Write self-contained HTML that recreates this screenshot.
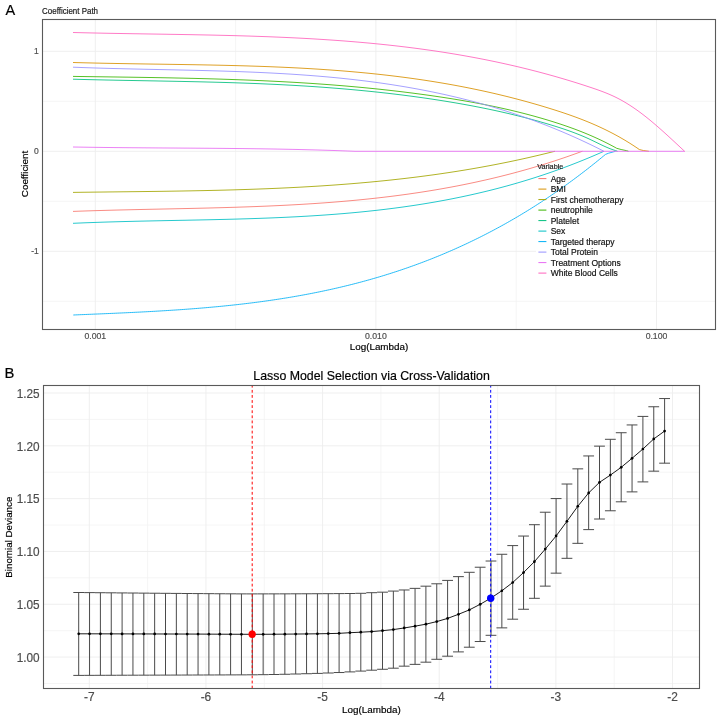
<!DOCTYPE html>
<html><head><meta charset="utf-8"><title>Lasso</title>
<style>
html,body{margin:0;padding:0;background:#fff;}
body{width:720px;height:718px;overflow:hidden;font-family:"Liberation Sans", sans-serif;}
svg{display:block;will-change:transform;}
svg text{font-family:"Liberation Sans", sans-serif;}
</style></head>
<body>
<svg width="720" height="718" viewBox="0 0 720 718">
<rect width="720" height="718" fill="#fff"/>
<text x="5.5" y="15" font-size="14.5" fill="#000" stroke="#000" stroke-width="0.18">A</text>
<text transform="translate(42.1,13.6) scale(1,1.08)" font-size="7.95" fill="#1a1a1a" stroke="#1a1a1a" stroke-width="0.18">Coefficient Path</text>
<line x1="43" x2="715" y1="101.3" y2="101.3" stroke="#F3F3F3" stroke-width="0.8"/>
<line x1="43" x2="715" y1="201.3" y2="201.3" stroke="#F3F3F3" stroke-width="0.8"/>
<line x1="43" x2="715" y1="301.3" y2="301.3" stroke="#F3F3F3" stroke-width="0.8"/>
<line x1="235.6" x2="235.6" y1="20" y2="329" stroke="#F3F3F3" stroke-width="0.8"/>
<line x1="516.2" x2="516.2" y1="20" y2="329" stroke="#F3F3F3" stroke-width="0.8"/>
<line x1="43" x2="715" y1="51.3" y2="51.3" stroke="#EDEDED" stroke-width="0.9"/>
<line x1="43" x2="715" y1="151.3" y2="151.3" stroke="#EDEDED" stroke-width="0.9"/>
<line x1="43" x2="715" y1="251.3" y2="251.3" stroke="#EDEDED" stroke-width="0.9"/>
<line x1="95.3" x2="95.3" y1="20" y2="329" stroke="#EDEDED" stroke-width="0.9"/>
<line x1="375.9" x2="375.9" y1="20" y2="329" stroke="#EDEDED" stroke-width="0.9"/>
<line x1="656.5" x2="656.5" y1="20" y2="329" stroke="#EDEDED" stroke-width="0.9"/>
<rect x="536" y="160.5" width="28.5" height="10" fill="#fff"/>
<rect x="536" y="173.35" width="31.3" height="10.5" fill="#fff"/>
<rect x="536" y="183.85" width="31.3" height="10.5" fill="#fff"/>
<rect x="536" y="194.35" width="88.9" height="10.5" fill="#fff"/>
<rect x="536" y="204.85" width="58.2" height="10.5" fill="#fff"/>
<rect x="536" y="215.35" width="44.5" height="10.5" fill="#fff"/>
<rect x="536" y="225.85" width="30.8" height="10.5" fill="#fff"/>
<rect x="536" y="236.35" width="80.9" height="10.5" fill="#fff"/>
<rect x="536" y="246.85" width="64.4" height="10.5" fill="#fff"/>
<rect x="536" y="257.35" width="86.6" height="10.5" fill="#fff"/>
<rect x="536" y="267.85" width="83.3" height="10.5" fill="#fff"/>
<path d="M73.00,211.40 L75.00,211.33 L77.00,211.26 L79.00,211.18 L81.00,211.12 L83.00,211.05 L85.00,210.98 L87.00,210.92 L89.00,210.85 L91.00,210.79 L93.00,210.73 L95.00,210.66 L97.00,210.60 L99.00,210.55 L101.00,210.49 L103.00,210.43 L105.00,210.38 L107.00,210.32 L109.00,210.27 L111.00,210.21 L113.00,210.16 L115.00,210.11 L117.00,210.06 L119.00,210.01 L121.00,209.96 L123.00,209.91 L125.00,209.86 L127.00,209.82 L129.00,209.77 L131.00,209.72 L133.00,209.68 L135.00,209.63 L137.00,209.59 L139.00,209.54 L141.00,209.50 L143.00,209.45 L145.00,209.41 L147.00,209.37 L149.00,209.32 L151.00,209.28 L153.00,209.24 L155.00,209.20 L157.00,209.16 L159.00,209.11 L161.00,209.07 L163.00,209.03 L165.00,208.99 L167.00,208.95 L169.00,208.90 L171.00,208.86 L173.00,208.82 L175.00,208.78 L177.00,208.73 L179.00,208.69 L181.00,208.65 L183.00,208.60 L185.00,208.56 L187.00,208.52 L189.00,208.47 L191.00,208.43 L193.00,208.38 L195.00,208.34 L197.00,208.29 L199.00,208.24 L201.00,208.19 L203.00,208.15 L205.00,208.10 L207.00,208.05 L209.00,208.00 L211.00,207.95 L213.00,207.90 L215.00,207.84 L217.00,207.79 L219.00,207.74 L221.00,207.68 L223.00,207.63 L225.00,207.57 L227.00,207.51 L229.00,207.45 L231.00,207.39 L233.00,207.33 L235.00,207.27 L237.00,207.21 L239.00,207.14 L241.00,207.07 L243.00,207.01 L245.00,206.94 L247.00,206.87 L249.00,206.80 L251.00,206.73 L253.00,206.65 L255.00,206.58 L257.00,206.50 L259.00,206.42 L261.00,206.34 L263.00,206.26 L265.00,206.18 L267.00,206.10 L269.00,206.01 L271.00,205.92 L273.00,205.83 L275.00,205.74 L277.00,205.65 L279.00,205.55 L281.00,205.46 L283.00,205.36 L285.00,205.26 L287.00,205.16 L289.00,205.05 L291.00,204.95 L293.00,204.84 L295.00,204.73 L297.00,204.61 L299.00,204.50 L301.00,204.38 L303.00,204.26 L305.00,204.14 L307.00,204.02 L309.00,203.89 L311.00,203.76 L313.00,203.63 L315.00,203.50 L317.00,203.37 L319.00,203.23 L321.00,203.09 L323.00,202.94 L325.00,202.80 L327.00,202.65 L329.00,202.50 L331.00,202.35 L333.00,202.19 L335.00,202.03 L337.00,201.87 L339.00,201.71 L341.00,201.54 L343.00,201.37 L345.00,201.20 L347.00,201.02 L349.00,200.84 L351.00,200.66 L353.00,200.48 L355.00,200.29 L357.00,200.10 L359.00,199.91 L361.00,199.71 L363.00,199.51 L365.00,199.31 L367.00,199.10 L369.00,198.89 L371.00,198.68 L373.00,198.46 L375.00,198.24 L377.00,198.02 L379.00,197.79 L381.00,197.56 L383.00,197.33 L385.00,197.09 L387.00,196.85 L389.00,196.61 L391.00,196.36 L393.00,196.11 L395.00,195.86 L397.00,195.60 L399.00,195.34 L401.00,195.07 L403.00,194.80 L405.00,194.53 L407.00,194.25 L409.00,193.97 L411.00,193.68 L413.00,193.39 L415.00,193.10 L417.00,192.80 L419.00,192.50 L421.00,192.20 L423.00,191.89 L425.00,191.57 L427.00,191.26 L429.00,190.93 L431.00,190.61 L433.00,190.28 L435.00,189.94 L437.00,189.60 L439.00,189.26 L441.00,188.91 L443.00,188.56 L445.00,188.20 L447.00,187.84 L449.00,187.48 L451.00,187.11 L453.00,186.73 L455.00,186.35 L457.00,185.97 L459.00,185.58 L461.00,185.18 L463.00,184.79 L465.00,184.38 L467.00,183.98 L469.00,183.56 L471.00,183.14 L473.00,182.72 L475.00,182.29 L477.00,181.86 L479.00,181.42 L481.00,180.98 L483.00,180.53 L485.00,180.08 L487.00,179.62 L489.00,179.16 L491.00,178.69 L493.00,178.22 L495.00,177.74 L497.00,177.26 L499.00,176.77 L501.00,176.27 L503.00,175.77 L505.00,175.27 L507.00,174.76 L509.00,174.24 L511.00,173.72 L513.00,173.19 L515.00,172.66 L517.00,172.12 L519.00,171.57 L521.00,171.02 L523.00,170.47 L525.00,169.91 L527.00,169.34 L529.00,168.77 L531.00,168.19 L533.00,167.60 L535.00,167.01 L537.00,166.42 L539.00,165.81 L541.00,165.21 L543.00,164.59 L545.00,163.97 L547.00,163.34 L549.00,162.71 L551.00,162.07 L553.00,161.43 L555.00,160.78 L557.00,160.12 L559.00,159.45 L561.00,158.78 L563.00,158.11 L565.00,157.43 L567.00,156.74 L569.00,156.04 L571.00,155.34 L573.00,154.63 L575.00,153.91 L577.00,153.19 L579.00,152.46 L581.00,151.73 L582.40,151.30" fill="none" stroke="#F8766D" stroke-width="0.85" stroke-linejoin="round"/>
<path d="M73.00,62.50 L75.00,62.55 L77.00,62.61 L79.00,62.66 L81.00,62.71 L83.00,62.77 L85.00,62.82 L87.00,62.87 L89.00,62.91 L91.00,62.96 L93.00,63.01 L95.00,63.05 L97.00,63.10 L99.00,63.14 L101.00,63.19 L103.00,63.23 L105.00,63.27 L107.00,63.31 L109.00,63.35 L111.00,63.39 L113.00,63.42 L115.00,63.46 L117.00,63.50 L119.00,63.53 L121.00,63.57 L123.00,63.60 L125.00,63.64 L127.00,63.67 L129.00,63.71 L131.00,63.74 L133.00,63.77 L135.00,63.80 L137.00,63.83 L139.00,63.87 L141.00,63.90 L143.00,63.93 L145.00,63.96 L147.00,63.99 L149.00,64.02 L151.00,64.05 L153.00,64.08 L155.00,64.11 L157.00,64.14 L159.00,64.17 L161.00,64.20 L163.00,64.23 L165.00,64.26 L167.00,64.29 L169.00,64.32 L171.00,64.35 L173.00,64.38 L175.00,64.41 L177.00,64.44 L179.00,64.47 L181.00,64.50 L183.00,64.53 L185.00,64.57 L187.00,64.60 L189.00,64.63 L191.00,64.67 L193.00,64.70 L195.00,64.73 L197.00,64.77 L199.00,64.81 L201.00,64.84 L203.00,64.88 L205.00,64.92 L207.00,64.96 L209.00,64.99 L211.00,65.03 L213.00,65.08 L215.00,65.12 L217.00,65.16 L219.00,65.20 L221.00,65.25 L223.00,65.29 L225.00,65.34 L227.00,65.39 L229.00,65.44 L231.00,65.49 L233.00,65.54 L235.00,65.59 L237.00,65.64 L239.00,65.69 L241.00,65.75 L243.00,65.81 L245.00,65.86 L247.00,65.92 L249.00,65.99 L251.00,66.05 L253.00,66.11 L255.00,66.18 L257.00,66.24 L259.00,66.31 L261.00,66.38 L263.00,66.45 L265.00,66.52 L267.00,66.60 L269.00,66.67 L271.00,66.75 L273.00,66.83 L275.00,66.91 L277.00,67.00 L279.00,67.08 L281.00,67.17 L283.00,67.26 L285.00,67.35 L287.00,67.44 L289.00,67.53 L291.00,67.63 L293.00,67.73 L295.00,67.83 L297.00,67.93 L299.00,68.04 L301.00,68.14 L303.00,68.25 L305.00,68.37 L307.00,68.48 L309.00,68.60 L311.00,68.71 L313.00,68.83 L315.00,68.96 L317.00,69.08 L319.00,69.21 L321.00,69.34 L323.00,69.47 L325.00,69.61 L327.00,69.75 L329.00,69.89 L331.00,70.03 L333.00,70.18 L335.00,70.33 L337.00,70.48 L339.00,70.63 L341.00,70.79 L343.00,70.95 L345.00,71.11 L347.00,71.28 L349.00,71.44 L351.00,71.61 L353.00,71.79 L355.00,71.97 L357.00,72.15 L359.00,72.33 L361.00,72.52 L363.00,72.71 L365.00,72.90 L367.00,73.09 L369.00,73.29 L371.00,73.49 L373.00,73.70 L375.00,73.91 L377.00,74.12 L379.00,74.34 L381.00,74.56 L383.00,74.78 L385.00,75.00 L387.00,75.23 L389.00,75.47 L391.00,75.70 L393.00,75.94 L395.00,76.19 L397.00,76.43 L399.00,76.68 L401.00,76.94 L403.00,77.20 L405.00,77.46 L407.00,77.72 L409.00,77.99 L411.00,78.27 L413.00,78.54 L415.00,78.83 L417.00,79.11 L419.00,79.40 L421.00,79.69 L423.00,79.99 L425.00,80.29 L427.00,80.60 L429.00,80.91 L431.00,81.22 L433.00,81.54 L435.00,81.86 L437.00,82.19 L439.00,82.52 L441.00,82.85 L443.00,83.19 L445.00,83.54 L447.00,83.88 L449.00,84.24 L451.00,84.59 L453.00,84.96 L455.00,85.32 L457.00,85.69 L459.00,86.07 L461.00,86.45 L463.00,86.83 L465.00,87.22 L467.00,87.62 L469.00,88.02 L471.00,88.42 L473.00,88.83 L475.00,89.24 L477.00,89.66 L479.00,90.08 L481.00,90.51 L483.00,90.94 L485.00,91.38 L487.00,91.82 L489.00,92.27 L491.00,92.72 L493.00,93.18 L495.00,93.64 L497.00,94.11 L499.00,94.59 L501.00,95.07 L503.00,95.55 L505.00,96.04 L507.00,96.53 L509.00,97.03 L511.00,97.54 L513.00,98.05 L515.00,98.57 L517.00,99.09 L519.00,99.62 L521.00,100.15 L523.00,100.69 L525.00,101.23 L527.00,101.78 L529.00,102.34 L531.00,102.90 L533.00,103.47 L535.00,104.04 L537.00,104.62 L539.00,105.20 L541.00,105.79 L543.00,106.39 L545.00,106.99 L547.00,107.60 L549.00,108.21 L551.00,108.83 L553.00,109.46 L555.00,110.09 L557.00,110.73 L559.00,111.38 L561.00,112.03 L563.00,112.70 L565.00,113.37 L567.00,114.05 L569.00,114.74 L571.00,115.45 L573.00,116.16 L575.00,116.89 L577.00,117.62 L579.00,118.38 L581.00,119.14 L583.00,119.92 L585.00,120.71 L587.00,121.51 L589.00,122.34 L591.00,123.17 L593.00,124.03 L595.00,124.90 L597.00,125.78 L599.00,126.69 L601.00,127.61 L603.00,128.55 L605.00,129.51 L607.00,130.49 L609.00,131.50 L611.00,132.52 L613.00,133.56 L615.00,134.63 L617.00,135.71 L619.00,136.82 L621.00,137.96 L623.00,139.11 L625.00,140.29 L627.00,141.50 L629.00,142.73 L631.00,143.99 L633.00,145.27 L635.00,146.59 L637.00,147.92 L639.00,149.29 L639.20,149.50 L643.30,150.50 L648.90,151.30" fill="none" stroke="#D89000" stroke-width="0.85" stroke-linejoin="round"/>
<path d="M73.00,192.40 L75.00,192.37 L77.00,192.34 L79.00,192.32 L81.00,192.29 L83.00,192.26 L85.00,192.24 L87.00,192.21 L89.00,192.19 L91.00,192.16 L93.00,192.14 L95.00,192.12 L97.00,192.09 L99.00,192.07 L101.00,192.05 L103.00,192.02 L105.00,192.00 L107.00,191.98 L109.00,191.95 L111.00,191.93 L113.00,191.91 L115.00,191.89 L117.00,191.86 L119.00,191.84 L121.00,191.82 L123.00,191.79 L125.00,191.77 L127.00,191.75 L129.00,191.73 L131.00,191.70 L133.00,191.68 L135.00,191.66 L137.00,191.63 L139.00,191.61 L141.00,191.58 L143.00,191.56 L145.00,191.54 L147.00,191.51 L149.00,191.49 L151.00,191.46 L153.00,191.43 L155.00,191.41 L157.00,191.38 L159.00,191.35 L161.00,191.33 L163.00,191.30 L165.00,191.27 L167.00,191.24 L169.00,191.21 L171.00,191.18 L173.00,191.15 L175.00,191.12 L177.00,191.09 L179.00,191.06 L181.00,191.02 L183.00,190.99 L185.00,190.95 L187.00,190.92 L189.00,190.88 L191.00,190.85 L193.00,190.81 L195.00,190.77 L197.00,190.73 L199.00,190.69 L201.00,190.65 L203.00,190.61 L205.00,190.57 L207.00,190.53 L209.00,190.48 L211.00,190.44 L213.00,190.39 L215.00,190.35 L217.00,190.30 L219.00,190.25 L221.00,190.20 L223.00,190.15 L225.00,190.10 L227.00,190.04 L229.00,189.99 L231.00,189.93 L233.00,189.88 L235.00,189.82 L237.00,189.76 L239.00,189.70 L241.00,189.64 L243.00,189.57 L245.00,189.51 L247.00,189.45 L249.00,189.38 L251.00,189.31 L253.00,189.24 L255.00,189.17 L257.00,189.10 L259.00,189.02 L261.00,188.95 L263.00,188.87 L265.00,188.80 L267.00,188.72 L269.00,188.63 L271.00,188.55 L273.00,188.47 L275.00,188.38 L277.00,188.30 L279.00,188.21 L281.00,188.12 L283.00,188.02 L285.00,187.93 L287.00,187.83 L289.00,187.74 L291.00,187.64 L293.00,187.54 L295.00,187.43 L297.00,187.33 L299.00,187.22 L301.00,187.11 L303.00,187.00 L305.00,186.89 L307.00,186.78 L309.00,186.66 L311.00,186.54 L313.00,186.42 L315.00,186.30 L317.00,186.18 L319.00,186.05 L321.00,185.93 L323.00,185.80 L325.00,185.66 L327.00,185.53 L329.00,185.39 L331.00,185.25 L333.00,185.11 L335.00,184.97 L337.00,184.83 L339.00,184.68 L341.00,184.53 L343.00,184.38 L345.00,184.22 L347.00,184.07 L349.00,183.91 L351.00,183.75 L353.00,183.58 L355.00,183.42 L357.00,183.25 L359.00,183.08 L361.00,182.90 L363.00,182.73 L365.00,182.55 L367.00,182.37 L369.00,182.19 L371.00,182.00 L373.00,181.81 L375.00,181.62 L377.00,181.43 L379.00,181.23 L381.00,181.03 L383.00,180.83 L385.00,180.63 L387.00,180.42 L389.00,180.21 L391.00,180.00 L393.00,179.78 L395.00,179.56 L397.00,179.34 L399.00,179.12 L401.00,178.89 L403.00,178.66 L405.00,178.43 L407.00,178.19 L409.00,177.95 L411.00,177.71 L413.00,177.47 L415.00,177.22 L417.00,176.97 L419.00,176.72 L421.00,176.46 L423.00,176.20 L425.00,175.94 L427.00,175.67 L429.00,175.40 L431.00,175.13 L433.00,174.86 L435.00,174.58 L437.00,174.30 L439.00,174.01 L441.00,173.72 L443.00,173.43 L445.00,173.14 L447.00,172.84 L449.00,172.54 L451.00,172.23 L453.00,171.92 L455.00,171.61 L457.00,171.30 L459.00,170.98 L461.00,170.65 L463.00,170.33 L465.00,170.00 L467.00,169.67 L469.00,169.33 L471.00,168.99 L473.00,168.65 L475.00,168.30 L477.00,167.95 L479.00,167.59 L481.00,167.24 L483.00,166.87 L485.00,166.51 L487.00,166.14 L489.00,165.77 L491.00,165.39 L493.00,165.01 L495.00,164.63 L497.00,164.24 L499.00,163.84 L501.00,163.45 L503.00,163.05 L505.00,162.65 L507.00,162.24 L509.00,161.83 L511.00,161.41 L513.00,160.99 L515.00,160.57 L517.00,160.14 L519.00,159.71 L521.00,159.27 L523.00,158.83 L525.00,158.39 L527.00,157.94 L529.00,157.49 L531.00,157.03 L533.00,156.57 L535.00,156.10 L537.00,155.63 L539.00,155.16 L541.00,154.68 L543.00,154.20 L545.00,153.71 L547.00,153.22 L549.00,152.73 L551.00,152.23 L553.00,151.72 L555.00,151.30" fill="none" stroke="#A3A500" stroke-width="0.85" stroke-linejoin="round"/>
<path d="M73.00,76.40 L75.00,76.43 L77.00,76.46 L79.00,76.49 L81.00,76.52 L83.00,76.54 L85.00,76.57 L87.00,76.60 L89.00,76.63 L91.00,76.65 L93.00,76.68 L95.00,76.71 L97.00,76.74 L99.00,76.76 L101.00,76.79 L103.00,76.82 L105.00,76.85 L107.00,76.87 L109.00,76.90 L111.00,76.93 L113.00,76.96 L115.00,76.98 L117.00,77.01 L119.00,77.04 L121.00,77.07 L123.00,77.10 L125.00,77.13 L127.00,77.15 L129.00,77.18 L131.00,77.21 L133.00,77.24 L135.00,77.27 L137.00,77.30 L139.00,77.33 L141.00,77.37 L143.00,77.40 L145.00,77.43 L147.00,77.46 L149.00,77.50 L151.00,77.53 L153.00,77.56 L155.00,77.60 L157.00,77.63 L159.00,77.67 L161.00,77.70 L163.00,77.74 L165.00,77.78 L167.00,77.82 L169.00,77.85 L171.00,77.89 L173.00,77.93 L175.00,77.97 L177.00,78.02 L179.00,78.06 L181.00,78.10 L183.00,78.14 L185.00,78.19 L187.00,78.23 L189.00,78.28 L191.00,78.33 L193.00,78.37 L195.00,78.42 L197.00,78.47 L199.00,78.52 L201.00,78.57 L203.00,78.63 L205.00,78.68 L207.00,78.73 L209.00,78.79 L211.00,78.85 L213.00,78.90 L215.00,78.96 L217.00,79.02 L219.00,79.08 L221.00,79.14 L223.00,79.21 L225.00,79.27 L227.00,79.34 L229.00,79.40 L231.00,79.47 L233.00,79.54 L235.00,79.61 L237.00,79.68 L239.00,79.75 L241.00,79.83 L243.00,79.90 L245.00,79.98 L247.00,80.06 L249.00,80.14 L251.00,80.22 L253.00,80.30 L255.00,80.38 L257.00,80.47 L259.00,80.56 L261.00,80.64 L263.00,80.73 L265.00,80.83 L267.00,80.92 L269.00,81.01 L271.00,81.11 L273.00,81.21 L275.00,81.31 L277.00,81.41 L279.00,81.51 L281.00,81.61 L283.00,81.72 L285.00,81.83 L287.00,81.94 L289.00,82.05 L291.00,82.16 L293.00,82.28 L295.00,82.39 L297.00,82.51 L299.00,82.63 L301.00,82.75 L303.00,82.88 L305.00,83.00 L307.00,83.13 L309.00,83.26 L311.00,83.39 L313.00,83.53 L315.00,83.66 L317.00,83.80 L319.00,83.94 L321.00,84.08 L323.00,84.23 L325.00,84.37 L327.00,84.52 L329.00,84.67 L331.00,84.82 L333.00,84.98 L335.00,85.14 L337.00,85.30 L339.00,85.46 L341.00,85.62 L343.00,85.79 L345.00,85.95 L347.00,86.12 L349.00,86.30 L351.00,86.47 L353.00,86.65 L355.00,86.83 L357.00,87.01 L359.00,87.20 L361.00,87.38 L363.00,87.57 L365.00,87.77 L367.00,87.96 L369.00,88.16 L371.00,88.36 L373.00,88.56 L375.00,88.76 L377.00,88.97 L379.00,89.18 L381.00,89.39 L383.00,89.61 L385.00,89.83 L387.00,90.05 L389.00,90.27 L391.00,90.50 L393.00,90.73 L395.00,90.96 L397.00,91.19 L399.00,91.43 L401.00,91.67 L403.00,91.91 L405.00,92.16 L407.00,92.41 L409.00,92.66 L411.00,92.91 L413.00,93.17 L415.00,93.43 L417.00,93.69 L419.00,93.96 L421.00,94.23 L423.00,94.50 L425.00,94.77 L427.00,95.05 L429.00,95.33 L431.00,95.62 L433.00,95.91 L435.00,96.20 L437.00,96.49 L439.00,96.79 L441.00,97.09 L443.00,97.39 L445.00,97.70 L447.00,98.01 L449.00,98.32 L451.00,98.64 L453.00,98.96 L455.00,99.28 L457.00,99.61 L459.00,99.94 L461.00,100.28 L463.00,100.62 L465.00,100.97 L467.00,101.32 L469.00,101.67 L471.00,102.03 L473.00,102.39 L475.00,102.76 L477.00,103.13 L479.00,103.51 L481.00,103.89 L483.00,104.28 L485.00,104.67 L487.00,105.07 L489.00,105.47 L491.00,105.88 L493.00,106.29 L495.00,106.71 L497.00,107.14 L499.00,107.57 L501.00,108.00 L503.00,108.45 L505.00,108.90 L507.00,109.35 L509.00,109.81 L511.00,110.28 L513.00,110.75 L515.00,111.24 L517.00,111.72 L519.00,112.22 L521.00,112.72 L523.00,113.23 L525.00,113.74 L527.00,114.26 L529.00,114.79 L531.00,115.33 L533.00,115.87 L535.00,116.42 L537.00,116.98 L539.00,117.55 L541.00,118.12 L543.00,118.70 L545.00,119.29 L547.00,119.89 L549.00,120.49 L551.00,121.11 L553.00,121.73 L555.00,122.36 L557.00,123.00 L559.00,123.65 L561.00,124.31 L563.00,124.98 L565.00,125.66 L567.00,126.35 L569.00,127.05 L571.00,127.77 L573.00,128.49 L575.00,129.23 L577.00,129.99 L579.00,130.75 L581.00,131.53 L583.00,132.33 L585.00,133.14 L587.00,133.96 L589.00,134.80 L591.00,135.66 L593.00,136.54 L595.00,137.43 L597.00,138.33 L599.00,139.26 L601.00,140.20 L603.00,141.17 L605.00,142.15 L607.00,143.15 L609.00,144.17 L611.00,145.21 L613.00,146.27 L615.00,147.35 L616.70,148.30 L621.10,149.50 L626.70,150.70 L628.50,151.30" fill="none" stroke="#39B600" stroke-width="0.85" stroke-linejoin="round"/>
<path d="M73.00,79.20 L75.00,79.25 L77.00,79.31 L79.00,79.36 L81.00,79.41 L83.00,79.47 L85.00,79.52 L87.00,79.57 L89.00,79.61 L91.00,79.66 L93.00,79.71 L95.00,79.76 L97.00,79.80 L99.00,79.85 L101.00,79.89 L103.00,79.93 L105.00,79.98 L107.00,80.02 L109.00,80.06 L111.00,80.10 L113.00,80.14 L115.00,80.18 L117.00,80.22 L119.00,80.26 L121.00,80.30 L123.00,80.34 L125.00,80.38 L127.00,80.41 L129.00,80.45 L131.00,80.49 L133.00,80.52 L135.00,80.56 L137.00,80.60 L139.00,80.63 L141.00,80.67 L143.00,80.71 L145.00,80.74 L147.00,80.78 L149.00,80.82 L151.00,80.85 L153.00,80.89 L155.00,80.92 L157.00,80.96 L159.00,81.00 L161.00,81.03 L163.00,81.07 L165.00,81.11 L167.00,81.15 L169.00,81.18 L171.00,81.22 L173.00,81.26 L175.00,81.30 L177.00,81.34 L179.00,81.38 L181.00,81.42 L183.00,81.46 L185.00,81.50 L187.00,81.54 L189.00,81.59 L191.00,81.63 L193.00,81.67 L195.00,81.72 L197.00,81.76 L199.00,81.81 L201.00,81.85 L203.00,81.90 L205.00,81.95 L207.00,82.00 L209.00,82.05 L211.00,82.10 L213.00,82.15 L215.00,82.21 L217.00,82.26 L219.00,82.31 L221.00,82.37 L223.00,82.43 L225.00,82.48 L227.00,82.54 L229.00,82.60 L231.00,82.67 L233.00,82.73 L235.00,82.79 L237.00,82.86 L239.00,82.93 L241.00,82.99 L243.00,83.06 L245.00,83.13 L247.00,83.21 L249.00,83.28 L251.00,83.36 L253.00,83.43 L255.00,83.51 L257.00,83.59 L259.00,83.67 L261.00,83.76 L263.00,83.84 L265.00,83.93 L267.00,84.02 L269.00,84.11 L271.00,84.20 L273.00,84.29 L275.00,84.39 L277.00,84.48 L279.00,84.58 L281.00,84.68 L283.00,84.79 L285.00,84.89 L287.00,85.00 L289.00,85.11 L291.00,85.22 L293.00,85.33 L295.00,85.44 L297.00,85.56 L299.00,85.68 L301.00,85.80 L303.00,85.92 L305.00,86.04 L307.00,86.17 L309.00,86.30 L311.00,86.43 L313.00,86.56 L315.00,86.70 L317.00,86.84 L319.00,86.98 L321.00,87.12 L323.00,87.26 L325.00,87.41 L327.00,87.56 L329.00,87.71 L331.00,87.86 L333.00,88.02 L335.00,88.18 L337.00,88.34 L339.00,88.50 L341.00,88.67 L343.00,88.83 L345.00,89.01 L347.00,89.18 L349.00,89.35 L351.00,89.53 L353.00,89.71 L355.00,89.90 L357.00,90.08 L359.00,90.27 L361.00,90.46 L363.00,90.66 L365.00,90.85 L367.00,91.05 L369.00,91.25 L371.00,91.46 L373.00,91.67 L375.00,91.88 L377.00,92.09 L379.00,92.31 L381.00,92.52 L383.00,92.75 L385.00,92.97 L387.00,93.20 L389.00,93.43 L391.00,93.66 L393.00,93.90 L395.00,94.14 L397.00,94.38 L399.00,94.62 L401.00,94.87 L403.00,95.12 L405.00,95.38 L407.00,95.64 L409.00,95.90 L411.00,96.16 L413.00,96.43 L415.00,96.70 L417.00,96.97 L419.00,97.25 L421.00,97.53 L423.00,97.81 L425.00,98.10 L427.00,98.39 L429.00,98.68 L431.00,98.98 L433.00,99.28 L435.00,99.58 L437.00,99.89 L439.00,100.20 L441.00,100.51 L443.00,100.83 L445.00,101.15 L447.00,101.47 L449.00,101.80 L451.00,102.13 L453.00,102.47 L455.00,102.81 L457.00,103.15 L459.00,103.50 L461.00,103.85 L463.00,104.20 L465.00,104.56 L467.00,104.93 L469.00,105.30 L471.00,105.67 L473.00,106.05 L475.00,106.43 L477.00,106.82 L479.00,107.21 L481.00,107.60 L483.00,108.00 L485.00,108.41 L487.00,108.82 L489.00,109.24 L491.00,109.66 L493.00,110.08 L495.00,110.51 L497.00,110.95 L499.00,111.39 L501.00,111.84 L503.00,112.29 L505.00,112.75 L507.00,113.21 L509.00,113.68 L511.00,114.16 L513.00,114.64 L515.00,115.12 L517.00,115.62 L519.00,116.12 L521.00,116.62 L523.00,117.13 L525.00,117.65 L527.00,118.17 L529.00,118.70 L531.00,119.24 L533.00,119.78 L535.00,120.33 L537.00,120.88 L539.00,121.45 L541.00,122.02 L543.00,122.59 L545.00,123.17 L547.00,123.76 L549.00,124.36 L551.00,124.96 L553.00,125.58 L555.00,126.19 L557.00,126.82 L559.00,127.46 L561.00,128.11 L563.00,128.77 L565.00,129.45 L567.00,130.13 L569.00,130.84 L571.00,131.56 L573.00,132.29 L575.00,133.05 L577.00,133.82 L579.00,134.61 L581.00,135.43 L583.00,136.26 L585.00,137.12 L587.00,138.00 L589.00,138.91 L591.00,139.85 L593.00,140.80 L595.00,141.77 L597.00,142.75 L599.00,143.72 L601.00,144.69 L603.00,145.63 L605.00,146.55 L607.00,147.43 L609.00,148.27 L611.00,149.06 L613.00,149.77 L615.00,150.42 L615.60,150.60 L617.50,151.30" fill="none" stroke="#00BF7D" stroke-width="0.85" stroke-linejoin="round"/>
<path d="M73.00,223.30 L75.00,223.23 L77.00,223.14 L79.00,223.06 L81.00,222.97 L83.00,222.89 L85.00,222.81 L87.00,222.73 L89.00,222.66 L91.00,222.58 L93.00,222.51 L95.00,222.44 L97.00,222.37 L99.00,222.30 L101.00,222.23 L103.00,222.17 L105.00,222.10 L107.00,222.04 L109.00,221.98 L111.00,221.92 L113.00,221.86 L115.00,221.80 L117.00,221.74 L119.00,221.69 L121.00,221.63 L123.00,221.58 L125.00,221.53 L127.00,221.48 L129.00,221.43 L131.00,221.38 L133.00,221.33 L135.00,221.28 L137.00,221.23 L139.00,221.19 L141.00,221.14 L143.00,221.10 L145.00,221.05 L147.00,221.01 L149.00,220.97 L151.00,220.92 L153.00,220.88 L155.00,220.84 L157.00,220.80 L159.00,220.76 L161.00,220.72 L163.00,220.68 L165.00,220.64 L167.00,220.60 L169.00,220.56 L171.00,220.52 L173.00,220.48 L175.00,220.44 L177.00,220.40 L179.00,220.36 L181.00,220.32 L183.00,220.29 L185.00,220.25 L187.00,220.21 L189.00,220.17 L191.00,220.13 L193.00,220.09 L195.00,220.05 L197.00,220.01 L199.00,219.97 L201.00,219.92 L203.00,219.88 L205.00,219.84 L207.00,219.80 L209.00,219.75 L211.00,219.71 L213.00,219.67 L215.00,219.62 L217.00,219.57 L219.00,219.53 L221.00,219.48 L223.00,219.43 L225.00,219.38 L227.00,219.33 L229.00,219.28 L231.00,219.23 L233.00,219.18 L235.00,219.12 L237.00,219.07 L239.00,219.01 L241.00,218.95 L243.00,218.89 L245.00,218.83 L247.00,218.77 L249.00,218.71 L251.00,218.65 L253.00,218.58 L255.00,218.51 L257.00,218.45 L259.00,218.38 L261.00,218.31 L263.00,218.23 L265.00,218.16 L267.00,218.08 L269.00,218.01 L271.00,217.93 L273.00,217.85 L275.00,217.76 L277.00,217.68 L279.00,217.59 L281.00,217.50 L283.00,217.41 L285.00,217.32 L287.00,217.22 L289.00,217.13 L291.00,217.03 L293.00,216.93 L295.00,216.83 L297.00,216.72 L299.00,216.61 L301.00,216.50 L303.00,216.39 L305.00,216.28 L307.00,216.16 L309.00,216.04 L311.00,215.92 L313.00,215.80 L315.00,215.67 L317.00,215.54 L319.00,215.41 L321.00,215.27 L323.00,215.14 L325.00,215.00 L327.00,214.85 L329.00,214.71 L331.00,214.56 L333.00,214.41 L335.00,214.25 L337.00,214.10 L339.00,213.93 L341.00,213.77 L343.00,213.61 L345.00,213.44 L347.00,213.26 L349.00,213.09 L351.00,212.91 L353.00,212.73 L355.00,212.54 L357.00,212.35 L359.00,212.16 L361.00,211.96 L363.00,211.76 L365.00,211.56 L367.00,211.35 L369.00,211.14 L371.00,210.93 L373.00,210.71 L375.00,210.49 L377.00,210.27 L379.00,210.04 L381.00,209.81 L383.00,209.57 L385.00,209.33 L387.00,209.09 L389.00,208.84 L391.00,208.59 L393.00,208.33 L395.00,208.08 L397.00,207.81 L399.00,207.54 L401.00,207.27 L403.00,207.00 L405.00,206.71 L407.00,206.43 L409.00,206.14 L411.00,205.85 L413.00,205.55 L415.00,205.25 L417.00,204.94 L419.00,204.63 L421.00,204.31 L423.00,203.99 L425.00,203.67 L427.00,203.34 L429.00,203.00 L431.00,202.67 L433.00,202.32 L435.00,201.97 L437.00,201.62 L439.00,201.26 L441.00,200.90 L443.00,200.53 L445.00,200.16 L447.00,199.78 L449.00,199.40 L451.00,199.01 L453.00,198.61 L455.00,198.21 L457.00,197.81 L459.00,197.40 L461.00,196.99 L463.00,196.57 L465.00,196.14 L467.00,195.71 L469.00,195.28 L471.00,194.83 L473.00,194.39 L475.00,193.93 L477.00,193.48 L479.00,193.01 L481.00,192.54 L483.00,192.07 L485.00,191.59 L487.00,191.10 L489.00,190.61 L491.00,190.11 L493.00,189.60 L495.00,189.09 L497.00,188.58 L499.00,188.06 L501.00,187.53 L503.00,186.99 L505.00,186.45 L507.00,185.91 L509.00,185.35 L511.00,184.79 L513.00,184.23 L515.00,183.66 L517.00,183.08 L519.00,182.49 L521.00,181.90 L523.00,181.31 L525.00,180.70 L527.00,180.09 L529.00,179.48 L531.00,178.85 L533.00,178.22 L535.00,177.58 L537.00,176.94 L539.00,176.29 L541.00,175.63 L543.00,174.97 L545.00,174.30 L547.00,173.62 L549.00,172.94 L551.00,172.24 L553.00,171.55 L555.00,170.84 L557.00,170.13 L559.00,169.41 L561.00,168.68 L563.00,167.95 L565.00,167.20 L567.00,166.46 L569.00,165.70 L571.00,164.94 L573.00,164.16 L575.00,163.39 L577.00,162.60 L579.00,161.81 L581.00,161.01 L583.00,160.20 L585.00,159.38 L587.00,158.56 L589.00,157.72 L591.00,156.89 L593.00,156.04 L595.00,155.18 L597.00,154.32 L599.00,153.45 L601.00,152.57 L603.00,151.69 L603.90,151.30" fill="none" stroke="#00BFC4" stroke-width="0.85" stroke-linejoin="round"/>
<path d="M73.30,315.00 L75.30,314.91 L77.30,314.83 L79.30,314.74 L81.30,314.66 L83.30,314.58 L85.30,314.50 L87.30,314.42 L89.30,314.34 L91.30,314.26 L93.30,314.17 L95.30,314.09 L97.30,314.01 L99.30,313.93 L101.30,313.84 L103.30,313.76 L105.30,313.67 L107.30,313.59 L109.30,313.50 L111.30,313.42 L113.30,313.33 L115.30,313.24 L117.30,313.15 L119.30,313.06 L121.30,312.97 L123.30,312.88 L125.30,312.79 L127.30,312.70 L129.30,312.60 L131.30,312.51 L133.30,312.41 L135.30,312.31 L137.30,312.21 L139.30,312.11 L141.30,312.01 L143.30,311.90 L145.30,311.80 L147.30,311.69 L149.30,311.58 L151.30,311.48 L153.30,311.36 L155.30,311.25 L157.30,311.14 L159.30,311.02 L161.30,310.90 L163.30,310.78 L165.30,310.66 L167.30,310.53 L169.30,310.41 L171.30,310.28 L173.30,310.15 L175.30,310.02 L177.30,309.88 L179.30,309.75 L181.30,309.61 L183.30,309.47 L185.30,309.32 L187.30,309.18 L189.30,309.03 L191.30,308.88 L193.30,308.72 L195.30,308.57 L197.30,308.41 L199.30,308.24 L201.30,308.08 L203.30,307.91 L205.30,307.74 L207.30,307.57 L209.30,307.39 L211.30,307.21 L213.30,307.03 L215.30,306.85 L217.30,306.66 L219.30,306.47 L221.30,306.27 L223.30,306.08 L225.30,305.87 L227.30,305.67 L229.30,305.46 L231.30,305.25 L233.30,305.04 L235.30,304.82 L237.30,304.60 L239.30,304.37 L241.30,304.14 L243.30,303.91 L245.30,303.67 L247.30,303.43 L249.30,303.19 L251.30,302.94 L253.30,302.69 L255.30,302.43 L257.30,302.17 L259.30,301.91 L261.30,301.64 L263.30,301.37 L265.30,301.09 L267.30,300.81 L269.30,300.52 L271.30,300.23 L273.30,299.94 L275.30,299.64 L277.30,299.34 L279.30,299.03 L281.30,298.72 L283.30,298.40 L285.30,298.08 L287.30,297.76 L289.30,297.43 L291.30,297.09 L293.30,296.75 L295.30,296.40 L297.30,296.05 L299.30,295.70 L301.30,295.34 L303.30,294.97 L305.30,294.60 L307.30,294.23 L309.30,293.85 L311.30,293.46 L313.30,293.07 L315.30,292.67 L317.30,292.27 L319.30,291.86 L321.30,291.45 L323.30,291.03 L325.30,290.60 L327.30,290.17 L329.30,289.74 L331.30,289.30 L333.30,288.85 L335.30,288.40 L337.30,287.94 L339.30,287.47 L341.30,287.00 L343.30,286.53 L345.30,286.04 L347.30,285.55 L349.30,285.06 L351.30,284.56 L353.30,284.05 L355.30,283.54 L357.30,283.02 L359.30,282.49 L361.30,281.96 L363.30,281.42 L365.30,280.87 L367.30,280.32 L369.30,279.76 L371.30,279.19 L373.30,278.62 L375.30,278.04 L377.30,277.46 L379.30,276.86 L381.30,276.27 L383.30,275.66 L385.30,275.05 L387.30,274.42 L389.30,273.80 L391.30,273.16 L393.30,272.52 L395.30,271.87 L397.30,271.22 L399.30,270.55 L401.30,269.88 L403.30,269.20 L405.30,268.52 L407.30,267.82 L409.30,267.12 L411.30,266.42 L413.30,265.70 L415.30,264.98 L417.30,264.24 L419.30,263.51 L421.30,262.76 L423.30,262.00 L425.30,261.24 L427.30,260.47 L429.30,259.69 L431.30,258.91 L433.30,258.11 L435.30,257.31 L437.30,256.50 L439.30,255.68 L441.30,254.85 L443.30,254.02 L445.30,253.17 L447.30,252.32 L449.30,251.46 L451.30,250.59 L453.30,249.71 L455.30,248.83 L457.30,247.93 L459.30,247.03 L461.30,246.12 L463.30,245.20 L465.30,244.27 L467.30,243.33 L469.30,242.38 L471.30,241.42 L473.30,240.46 L475.30,239.48 L477.30,238.50 L479.30,237.51 L481.30,236.50 L483.30,235.49 L485.30,234.47 L487.30,233.44 L489.30,232.40 L491.30,231.36 L493.30,230.30 L495.30,229.23 L497.30,228.15 L499.30,227.07 L501.30,225.97 L503.30,224.87 L505.30,223.75 L507.30,222.62 L509.30,221.49 L511.30,220.34 L513.30,219.19 L515.30,218.02 L517.30,216.85 L519.30,215.66 L521.30,214.47 L523.30,213.26 L525.30,212.05 L527.30,210.82 L529.30,209.59 L531.30,208.34 L533.30,207.09 L535.30,205.82 L537.30,204.54 L539.30,203.25 L541.30,201.95 L543.30,200.65 L545.30,199.33 L547.30,198.00 L549.30,196.66 L551.30,195.30 L553.30,193.94 L555.30,192.57 L557.30,191.18 L559.30,189.79 L561.30,188.38 L563.30,186.96 L565.30,185.53 L567.30,184.10 L569.30,182.64 L571.30,181.18 L573.30,179.71 L575.30,178.22 L577.30,176.73 L579.30,175.22 L581.30,173.70 L583.30,172.17 L585.30,170.63 L587.30,169.08 L589.30,167.51 L591.30,165.93 L593.30,164.34 L595.30,162.74 L597.30,161.13 L599.30,159.51 L601.30,157.87 L603.30,156.22 L605.30,154.56 L605.60,154.40 L608.30,153.30 L613.30,151.90 L615.60,151.30" fill="none" stroke="#00B0F6" stroke-width="0.85" stroke-linejoin="round"/>
<path d="M73.00,67.20 L75.00,67.27 L77.00,67.34 L79.00,67.42 L81.00,67.49 L83.00,67.57 L85.00,67.64 L87.00,67.71 L89.00,67.78 L91.00,67.84 L93.00,67.91 L95.00,67.97 L97.00,68.04 L99.00,68.10 L101.00,68.16 L103.00,68.22 L105.00,68.27 L107.00,68.33 L109.00,68.39 L111.00,68.44 L113.00,68.50 L115.00,68.55 L117.00,68.60 L119.00,68.65 L121.00,68.70 L123.00,68.75 L125.00,68.80 L127.00,68.85 L129.00,68.89 L131.00,68.94 L133.00,68.99 L135.00,69.03 L137.00,69.08 L139.00,69.12 L141.00,69.17 L143.00,69.21 L145.00,69.25 L147.00,69.30 L149.00,69.34 L151.00,69.38 L153.00,69.42 L155.00,69.47 L157.00,69.51 L159.00,69.55 L161.00,69.59 L163.00,69.63 L165.00,69.67 L167.00,69.72 L169.00,69.76 L171.00,69.80 L173.00,69.84 L175.00,69.89 L177.00,69.93 L179.00,69.97 L181.00,70.02 L183.00,70.06 L185.00,70.11 L187.00,70.15 L189.00,70.20 L191.00,70.24 L193.00,70.29 L195.00,70.34 L197.00,70.38 L199.00,70.43 L201.00,70.48 L203.00,70.53 L205.00,70.58 L207.00,70.64 L209.00,70.69 L211.00,70.74 L213.00,70.80 L215.00,70.86 L217.00,70.91 L219.00,70.97 L221.00,71.03 L223.00,71.09 L225.00,71.15 L227.00,71.22 L229.00,71.28 L231.00,71.35 L233.00,71.41 L235.00,71.48 L237.00,71.55 L239.00,71.62 L241.00,71.70 L243.00,71.77 L245.00,71.85 L247.00,71.93 L249.00,72.01 L251.00,72.09 L253.00,72.17 L255.00,72.26 L257.00,72.34 L259.00,72.43 L261.00,72.52 L263.00,72.62 L265.00,72.71 L267.00,72.81 L269.00,72.91 L271.00,73.01 L273.00,73.11 L275.00,73.22 L277.00,73.33 L279.00,73.44 L281.00,73.55 L283.00,73.67 L285.00,73.79 L287.00,73.91 L289.00,74.03 L291.00,74.15 L293.00,74.28 L295.00,74.41 L297.00,74.54 L299.00,74.68 L301.00,74.82 L303.00,74.96 L305.00,75.11 L307.00,75.25 L309.00,75.40 L311.00,75.56 L313.00,75.71 L315.00,75.87 L317.00,76.03 L319.00,76.20 L321.00,76.37 L323.00,76.54 L325.00,76.71 L327.00,76.89 L329.00,77.07 L331.00,77.26 L333.00,77.45 L335.00,77.64 L337.00,77.83 L339.00,78.03 L341.00,78.23 L343.00,78.44 L345.00,78.65 L347.00,78.86 L349.00,79.08 L351.00,79.30 L353.00,79.52 L355.00,79.75 L357.00,79.99 L359.00,80.22 L361.00,80.46 L363.00,80.71 L365.00,80.95 L367.00,81.21 L369.00,81.46 L371.00,81.72 L373.00,81.99 L375.00,82.26 L377.00,82.53 L379.00,82.81 L381.00,83.09 L383.00,83.37 L385.00,83.67 L387.00,83.96 L389.00,84.26 L391.00,84.56 L393.00,84.87 L395.00,85.19 L397.00,85.50 L399.00,85.83 L401.00,86.15 L403.00,86.49 L405.00,86.82 L407.00,87.17 L409.00,87.51 L411.00,87.87 L413.00,88.22 L415.00,88.58 L417.00,88.95 L419.00,89.32 L421.00,89.70 L423.00,90.08 L425.00,90.47 L427.00,90.86 L429.00,91.26 L431.00,91.67 L433.00,92.07 L435.00,92.49 L437.00,92.91 L439.00,93.33 L441.00,93.77 L443.00,94.20 L445.00,94.64 L447.00,95.09 L449.00,95.55 L451.00,96.01 L453.00,96.47 L455.00,96.94 L457.00,97.42 L459.00,97.90 L461.00,98.39 L463.00,98.89 L465.00,99.39 L467.00,99.89 L469.00,100.41 L471.00,100.92 L473.00,101.45 L475.00,101.98 L477.00,102.52 L479.00,103.06 L481.00,103.61 L483.00,104.17 L485.00,104.73 L487.00,105.30 L489.00,105.88 L491.00,106.46 L493.00,107.05 L495.00,107.65 L497.00,108.25 L499.00,108.86 L501.00,109.48 L503.00,110.10 L505.00,110.73 L507.00,111.37 L509.00,112.01 L511.00,112.66 L513.00,113.32 L515.00,113.98 L517.00,114.65 L519.00,115.33 L521.00,116.02 L523.00,116.71 L525.00,117.41 L527.00,118.12 L529.00,118.84 L531.00,119.56 L533.00,120.29 L535.00,121.02 L537.00,121.77 L539.00,122.52 L541.00,123.28 L543.00,124.05 L545.00,124.82 L547.00,125.60 L549.00,126.40 L551.00,127.19 L553.00,128.00 L555.00,128.81 L557.00,129.63 L559.00,130.46 L561.00,131.30 L563.00,132.15 L565.00,133.00 L567.00,133.86 L569.00,134.73 L571.00,135.61 L573.00,136.49 L575.00,137.39 L577.00,138.29 L579.00,139.20 L581.00,140.12 L583.00,141.05 L585.00,141.98 L587.00,142.93 L589.00,143.88 L591.00,144.84 L593.00,145.81 L595.00,146.79 L597.00,147.78 L599.00,148.77 L601.00,149.78 L603.00,150.79 L603.90,151.30" fill="none" stroke="#9590FF" stroke-width="0.85" stroke-linejoin="round"/>
<path d="M73.00,147.00 L75.00,147.04 L77.00,147.07 L79.00,147.10 L81.00,147.14 L83.00,147.17 L85.00,147.20 L87.00,147.23 L89.00,147.26 L91.00,147.29 L93.00,147.31 L95.00,147.34 L97.00,147.37 L99.00,147.39 L101.00,147.42 L103.00,147.44 L105.00,147.47 L107.00,147.49 L109.00,147.51 L111.00,147.54 L113.00,147.56 L115.00,147.58 L117.00,147.60 L119.00,147.62 L121.00,147.64 L123.00,147.66 L125.00,147.68 L127.00,147.69 L129.00,147.71 L131.00,147.73 L133.00,147.75 L135.00,147.76 L137.00,147.78 L139.00,147.79 L141.00,147.81 L143.00,147.83 L145.00,147.84 L147.00,147.86 L149.00,147.87 L151.00,147.88 L153.00,147.90 L155.00,147.91 L157.00,147.93 L159.00,147.94 L161.00,147.95 L163.00,147.97 L165.00,147.98 L167.00,147.99 L169.00,148.00 L171.00,148.02 L173.00,148.03 L175.00,148.04 L177.00,148.06 L179.00,148.07 L181.00,148.08 L183.00,148.10 L185.00,148.11 L187.00,148.12 L189.00,148.13 L191.00,148.15 L193.00,148.16 L195.00,148.17 L197.00,148.19 L199.00,148.20 L201.00,148.22 L203.00,148.23 L205.00,148.25 L207.00,148.26 L209.00,148.28 L211.00,148.29 L213.00,148.31 L215.00,148.32 L217.00,148.34 L219.00,148.36 L221.00,148.37 L223.00,148.39 L225.00,148.41 L227.00,148.43 L229.00,148.45 L231.00,148.47 L233.00,148.49 L235.00,148.51 L237.00,148.53 L239.00,148.55 L241.00,148.57 L243.00,148.59 L245.00,148.62 L247.00,148.64 L249.00,148.66 L251.00,148.69 L253.00,148.71 L255.00,148.74 L257.00,148.77 L259.00,148.79 L261.00,148.82 L263.00,148.85 L265.00,148.88 L267.00,148.91 L269.00,148.94 L271.00,148.98 L273.00,149.01 L275.00,149.04 L277.00,149.08 L279.00,149.11 L281.00,149.15 L283.00,149.19 L285.00,149.23 L287.00,149.27 L289.00,149.31 L291.00,149.35 L293.00,149.39 L295.00,149.43 L297.00,149.48 L299.00,149.52 L301.00,149.57 L303.00,149.62 L305.00,149.67 L307.00,149.72 L309.00,149.77 L311.00,149.82 L313.00,149.87 L315.00,149.93 L317.00,149.98 L319.00,150.04 L321.00,150.10 L323.00,150.16 L325.00,150.22 L327.00,150.28 L329.00,150.34 L331.00,150.41 L333.00,150.48 L335.00,150.54 L337.00,150.61 L339.00,150.68 L341.00,150.75 L343.00,150.83 L345.00,150.90 L347.00,150.98 L349.00,151.06 L351.00,151.13 L353.00,151.21 L355.00,151.30 L684.8,151.3" fill="none" stroke="#E76BF3" stroke-width="0.85" stroke-linejoin="round"/>
<path d="M73.00,32.50 L75.00,32.55 L77.00,32.60 L79.00,32.65 L81.00,32.70 L83.00,32.74 L85.00,32.79 L87.00,32.84 L89.00,32.88 L91.00,32.93 L93.00,32.97 L95.00,33.01 L97.00,33.06 L99.00,33.10 L101.00,33.14 L103.00,33.18 L105.00,33.22 L107.00,33.26 L109.00,33.30 L111.00,33.33 L113.00,33.37 L115.00,33.41 L117.00,33.44 L119.00,33.48 L121.00,33.51 L123.00,33.55 L125.00,33.58 L127.00,33.62 L129.00,33.65 L131.00,33.68 L133.00,33.72 L135.00,33.75 L137.00,33.78 L139.00,33.81 L141.00,33.85 L143.00,33.88 L145.00,33.91 L147.00,33.94 L149.00,33.97 L151.00,34.01 L153.00,34.04 L155.00,34.07 L157.00,34.10 L159.00,34.13 L161.00,34.17 L163.00,34.20 L165.00,34.23 L167.00,34.26 L169.00,34.30 L171.00,34.33 L173.00,34.36 L175.00,34.39 L177.00,34.43 L179.00,34.46 L181.00,34.50 L183.00,34.53 L185.00,34.57 L187.00,34.60 L189.00,34.64 L191.00,34.67 L193.00,34.71 L195.00,34.75 L197.00,34.79 L199.00,34.83 L201.00,34.87 L203.00,34.91 L205.00,34.95 L207.00,34.99 L209.00,35.03 L211.00,35.07 L213.00,35.12 L215.00,35.16 L217.00,35.21 L219.00,35.25 L221.00,35.30 L223.00,35.35 L225.00,35.40 L227.00,35.45 L229.00,35.50 L231.00,35.55 L233.00,35.60 L235.00,35.65 L237.00,35.71 L239.00,35.77 L241.00,35.82 L243.00,35.88 L245.00,35.94 L247.00,36.00 L249.00,36.06 L251.00,36.13 L253.00,36.19 L255.00,36.26 L257.00,36.33 L259.00,36.40 L261.00,36.47 L263.00,36.54 L265.00,36.61 L267.00,36.68 L269.00,36.76 L271.00,36.84 L273.00,36.92 L275.00,37.00 L277.00,37.08 L279.00,37.17 L281.00,37.25 L283.00,37.34 L285.00,37.43 L287.00,37.52 L289.00,37.61 L291.00,37.71 L293.00,37.80 L295.00,37.90 L297.00,38.00 L299.00,38.10 L301.00,38.21 L303.00,38.31 L305.00,38.42 L307.00,38.53 L309.00,38.64 L311.00,38.76 L313.00,38.87 L315.00,38.99 L317.00,39.11 L319.00,39.24 L321.00,39.36 L323.00,39.49 L325.00,39.62 L327.00,39.75 L329.00,39.88 L331.00,40.02 L333.00,40.16 L335.00,40.30 L337.00,40.44 L339.00,40.59 L341.00,40.74 L343.00,40.89 L345.00,41.04 L347.00,41.20 L349.00,41.36 L351.00,41.52 L353.00,41.68 L355.00,41.85 L357.00,42.02 L359.00,42.19 L361.00,42.36 L363.00,42.54 L365.00,42.72 L367.00,42.90 L369.00,43.09 L371.00,43.28 L373.00,43.47 L375.00,43.66 L377.00,43.86 L379.00,44.06 L381.00,44.26 L383.00,44.47 L385.00,44.68 L387.00,44.89 L389.00,45.11 L391.00,45.33 L393.00,45.55 L395.00,45.77 L397.00,46.00 L399.00,46.23 L401.00,46.47 L403.00,46.71 L405.00,46.95 L407.00,47.19 L409.00,47.44 L411.00,47.69 L413.00,47.95 L415.00,48.20 L417.00,48.47 L419.00,48.73 L421.00,49.00 L423.00,49.27 L425.00,49.55 L427.00,49.83 L429.00,50.11 L431.00,50.40 L433.00,50.69 L435.00,50.98 L437.00,51.28 L439.00,51.58 L441.00,51.89 L443.00,52.20 L445.00,52.51 L447.00,52.83 L449.00,53.15 L451.00,53.47 L453.00,53.80 L455.00,54.14 L457.00,54.47 L459.00,54.81 L461.00,55.16 L463.00,55.51 L465.00,55.86 L467.00,56.22 L469.00,56.58 L471.00,56.95 L473.00,57.31 L475.00,57.69 L477.00,58.07 L479.00,58.45 L481.00,58.84 L483.00,59.23 L485.00,59.62 L487.00,60.02 L489.00,60.43 L491.00,60.84 L493.00,61.25 L495.00,61.67 L497.00,62.09 L499.00,62.52 L501.00,62.95 L503.00,63.39 L505.00,63.83 L507.00,64.27 L509.00,64.72 L511.00,65.18 L513.00,65.64 L515.00,66.10 L517.00,66.57 L519.00,67.04 L521.00,67.52 L523.00,68.01 L525.00,68.50 L527.00,68.99 L529.00,69.49 L531.00,69.99 L533.00,70.50 L535.00,71.01 L537.00,71.53 L539.00,72.06 L541.00,72.58 L543.00,73.12 L545.00,73.66 L547.00,74.20 L549.00,74.75 L551.00,75.31 L553.00,75.87 L555.00,76.43 L557.00,77.00 L559.00,77.58 L561.00,78.16 L563.00,78.75 L565.00,79.34 L567.00,79.94 L569.00,80.54 L571.00,81.15 L573.00,81.76 L575.00,82.38 L577.00,83.01 L579.00,83.64 L581.00,84.27 L583.00,84.92 L585.00,85.56 L587.00,86.22 L589.00,86.88 L591.00,87.54 L593.00,88.22 L595.00,88.90 L597.00,89.59 L599.00,90.31 L601.00,91.04 L603.00,91.79 L605.00,92.57 L607.00,93.37 L609.00,94.20 L611.00,95.07 L613.00,95.98 L615.00,96.92 L617.00,97.91 L619.00,98.94 L621.00,100.01 L623.00,101.13 L625.00,102.30 L627.00,103.51 L629.00,104.75 L631.00,106.04 L633.00,107.37 L635.00,108.74 L637.00,110.15 L639.00,111.59 L641.00,113.07 L643.00,114.59 L645.00,116.14 L647.00,117.72 L649.00,119.34 L651.00,120.98 L653.00,122.66 L655.00,124.36 L657.00,126.08 L659.00,127.83 L661.00,129.59 L663.00,131.38 L665.00,133.18 L667.00,134.99 L669.00,136.82 L671.00,138.66 L673.00,140.51 L675.00,142.36 L677.00,144.22 L679.00,146.08 L681.00,147.95 L683.00,149.81 L684.60,151.30" fill="none" stroke="#FF62BC" stroke-width="0.85" stroke-linejoin="round"/>
<text x="537.2" y="168.8" font-size="7.3" fill="#1a1a1a" stroke="#1a1a1a" stroke-width="0.18">Variable</text>
<line x1="538.4" x2="546.4" y1="178.60" y2="178.60" stroke="#F8766D" stroke-width="1"/>
<text x="550.7" y="181.65" font-size="8.5" fill="#111" stroke="#111" stroke-width="0.18">Age</text>
<line x1="538.4" x2="546.4" y1="189.10" y2="189.10" stroke="#D89000" stroke-width="1"/>
<text x="550.7" y="192.15" font-size="8.5" fill="#111" stroke="#111" stroke-width="0.18">BMI</text>
<line x1="538.4" x2="546.4" y1="199.60" y2="199.60" stroke="#A3A500" stroke-width="1"/>
<text x="550.7" y="202.65" font-size="8.5" fill="#111" stroke="#111" stroke-width="0.18">First chemotherapy</text>
<line x1="538.4" x2="546.4" y1="210.10" y2="210.10" stroke="#39B600" stroke-width="1"/>
<text x="550.7" y="213.15" font-size="8.5" fill="#111" stroke="#111" stroke-width="0.18">neutrophile</text>
<line x1="538.4" x2="546.4" y1="220.60" y2="220.60" stroke="#00BF7D" stroke-width="1"/>
<text x="550.7" y="223.65" font-size="8.5" fill="#111" stroke="#111" stroke-width="0.18">Platelet</text>
<line x1="538.4" x2="546.4" y1="231.10" y2="231.10" stroke="#00BFC4" stroke-width="1"/>
<text x="550.7" y="234.15" font-size="8.5" fill="#111" stroke="#111" stroke-width="0.18">Sex</text>
<line x1="538.4" x2="546.4" y1="241.60" y2="241.60" stroke="#00B0F6" stroke-width="1"/>
<text x="550.7" y="244.65" font-size="8.5" fill="#111" stroke="#111" stroke-width="0.18">Targeted therapy</text>
<line x1="538.4" x2="546.4" y1="252.10" y2="252.10" stroke="#9590FF" stroke-width="1"/>
<text x="550.7" y="255.15" font-size="8.5" fill="#111" stroke="#111" stroke-width="0.18">Total Protein</text>
<line x1="538.4" x2="546.4" y1="262.60" y2="262.60" stroke="#E76BF3" stroke-width="1"/>
<text x="550.7" y="265.65" font-size="8.5" fill="#111" stroke="#111" stroke-width="0.18">Treatment Options</text>
<line x1="538.4" x2="546.4" y1="273.10" y2="273.10" stroke="#FF62BC" stroke-width="1"/>
<text x="550.7" y="276.15" font-size="8.5" fill="#111" stroke="#111" stroke-width="0.18">White Blood Cells</text>
<rect x="42.5" y="19.5" width="673" height="310" fill="none" stroke="#5a5a5a" stroke-width="1.1"/>
<text x="38.8" y="54.35" font-size="8.5" fill="#4D4D4D" text-anchor="end" stroke="#4D4D4D" stroke-width="0.18">1</text>
<text x="38.8" y="154.35" font-size="8.5" fill="#4D4D4D" text-anchor="end" stroke="#4D4D4D" stroke-width="0.18">0</text>
<text x="38.8" y="254.35" font-size="8.5" fill="#4D4D4D" text-anchor="end" stroke="#4D4D4D" stroke-width="0.18">-1</text>
<text x="95.3" y="338.6" font-size="8.7" fill="#4D4D4D" text-anchor="middle" stroke="#4D4D4D" stroke-width="0.18">0.001</text>
<text x="375.9" y="338.6" font-size="8.7" fill="#4D4D4D" text-anchor="middle" stroke="#4D4D4D" stroke-width="0.18">0.010</text>
<text x="656.5" y="338.6" font-size="8.7" fill="#4D4D4D" text-anchor="middle" stroke="#4D4D4D" stroke-width="0.18">0.100</text>
<text x="379" y="350.2" font-size="9.85" fill="#000" text-anchor="middle" stroke="#000" stroke-width="0.18">Log(Lambda)</text>
<text transform="translate(28.3,174) rotate(-90)" font-size="9.9" fill="#000" text-anchor="middle" stroke="#000" stroke-width="0.18">Coefficient</text>
<text x="4.6" y="377.9" font-size="14.8" fill="#000" stroke="#000" stroke-width="0.18">B</text>
<text x="371.6" y="379.6" font-size="12.35" fill="#000" text-anchor="middle" stroke="#000" stroke-width="0.18">Lasso Model Selection via Cross-Validation</text>
<line x1="44" x2="699.5" y1="683.51" y2="683.51" stroke="#F3F3F3" stroke-width="0.8"/>
<line x1="44" x2="699.5" y1="630.69" y2="630.69" stroke="#F3F3F3" stroke-width="0.8"/>
<line x1="44" x2="699.5" y1="577.87" y2="577.87" stroke="#F3F3F3" stroke-width="0.8"/>
<line x1="44" x2="699.5" y1="525.05" y2="525.05" stroke="#F3F3F3" stroke-width="0.8"/>
<line x1="44" x2="699.5" y1="472.23" y2="472.23" stroke="#F3F3F3" stroke-width="0.8"/>
<line x1="44" x2="699.5" y1="419.41" y2="419.41" stroke="#F3F3F3" stroke-width="0.8"/>
<line x1="147.62" x2="147.62" y1="386" y2="688" stroke="#F3F3F3" stroke-width="0.8"/>
<line x1="264.26" x2="264.26" y1="386" y2="688" stroke="#F3F3F3" stroke-width="0.8"/>
<line x1="380.90" x2="380.90" y1="386" y2="688" stroke="#F3F3F3" stroke-width="0.8"/>
<line x1="497.54" x2="497.54" y1="386" y2="688" stroke="#F3F3F3" stroke-width="0.8"/>
<line x1="614.18" x2="614.18" y1="386" y2="688" stroke="#F3F3F3" stroke-width="0.8"/>
<line x1="44" x2="699.5" y1="657.10" y2="657.10" stroke="#EDEDED" stroke-width="0.9"/>
<line x1="44" x2="699.5" y1="604.28" y2="604.28" stroke="#EDEDED" stroke-width="0.9"/>
<line x1="44" x2="699.5" y1="551.46" y2="551.46" stroke="#EDEDED" stroke-width="0.9"/>
<line x1="44" x2="699.5" y1="498.64" y2="498.64" stroke="#EDEDED" stroke-width="0.9"/>
<line x1="44" x2="699.5" y1="445.82" y2="445.82" stroke="#EDEDED" stroke-width="0.9"/>
<line x1="44" x2="699.5" y1="393.00" y2="393.00" stroke="#EDEDED" stroke-width="0.9"/>
<line x1="89.30" x2="89.30" y1="386" y2="688" stroke="#EDEDED" stroke-width="0.9"/>
<line x1="205.94" x2="205.94" y1="386" y2="688" stroke="#EDEDED" stroke-width="0.9"/>
<line x1="322.58" x2="322.58" y1="386" y2="688" stroke="#EDEDED" stroke-width="0.9"/>
<line x1="439.22" x2="439.22" y1="386" y2="688" stroke="#EDEDED" stroke-width="0.9"/>
<line x1="555.86" x2="555.86" y1="386" y2="688" stroke="#EDEDED" stroke-width="0.9"/>
<line x1="672.50" x2="672.50" y1="386" y2="688" stroke="#EDEDED" stroke-width="0.9"/>
<path d="M78.70,592.50V675.40M73.30,592.50H84.10M73.30,675.40H84.10M89.55,592.61V675.35M84.15,592.61H94.95M84.15,675.35H94.95M100.40,592.72V675.31M95.00,592.72H105.80M95.00,675.31H105.80M111.25,592.82V675.27M105.85,592.82H116.65M105.85,675.27H116.65M122.10,592.93V675.23M116.70,592.93H127.50M116.70,675.23H127.50M132.95,593.03V675.19M127.55,593.03H138.35M127.55,675.19H138.35M143.80,593.13V675.16M138.40,593.13H149.20M138.40,675.16H149.20M154.65,593.23V675.13M149.25,593.23H160.05M149.25,675.13H160.05M165.50,593.32V675.10M160.10,593.32H170.90M160.10,675.10H170.90M176.35,593.42V675.07M170.95,593.42H181.75M170.95,675.07H181.75M187.20,593.51V675.04M181.80,593.51H192.60M181.80,675.04H192.60M198.05,593.59V675.01M192.65,593.59H203.45M192.65,675.01H203.45M208.90,593.67V674.97M203.50,593.67H214.30M203.50,674.97H214.30M219.75,593.75V674.94M214.35,593.75H225.15M214.35,674.94H225.15M230.60,593.82V674.90M225.20,593.82H236.00M225.20,674.90H236.00M241.45,593.88V674.86M236.05,593.88H246.85M236.05,674.86H246.85M252.30,593.90V674.80M246.90,593.90H257.70M246.90,674.80H257.70M263.15,593.89V674.68M257.75,593.89H268.55M257.75,674.68H268.55M274.00,593.87V674.50M268.60,593.87H279.40M268.60,674.50H279.40M284.85,593.85V674.27M279.45,593.85H290.25M279.45,674.27H290.25M295.70,593.81V674.01M290.30,593.81H301.10M290.30,674.01H301.10M306.55,593.78V673.73M301.15,593.78H311.95M301.15,673.73H311.95M317.40,593.73V673.40M312.00,593.73H322.80M312.00,673.40H322.80M328.25,593.68V673.01M322.85,593.68H333.65M322.85,673.01H333.65M339.10,593.60V672.54M333.70,593.60H344.50M333.70,672.54H344.50M349.95,593.50V671.90M344.55,593.50H355.35M344.55,671.90H355.35M360.80,593.30V671.09M355.40,593.30H366.20M355.40,671.09H366.20M371.65,592.70V670.20M366.25,592.70H377.05M366.25,670.20H377.05M382.50,592.18V669.27M377.10,592.18H387.90M377.10,669.27H387.90M393.35,591.09V668.19M387.95,591.09H398.75M387.95,668.19H398.75M404.20,589.98V666.17M398.80,589.98H409.60M398.80,666.17H409.60M415.05,588.37V664.37M409.65,588.37H420.45M409.65,664.37H420.45M425.90,586.18V662.18M420.50,586.18H431.30M420.50,662.18H431.30M436.75,583.79V659.29M431.35,583.79H442.15M431.35,659.29H442.15M447.60,580.40V656.20M442.20,580.40H453.00M442.20,656.20H453.00M458.45,576.61V651.90M453.05,576.61H463.85M453.05,651.90H463.85M469.30,572.31V647.21M463.90,572.31H474.70M463.90,647.21H474.70M480.15,567.22V641.52M474.75,567.22H485.55M474.75,641.52H485.55M491.00,561.02V635.31M485.60,561.02H496.40M485.60,635.31H496.40M501.85,554.27V627.86M496.45,554.27H507.25M496.45,627.86H507.25M512.70,545.60V619.20M507.30,545.60H518.10M507.30,619.20H518.10M523.55,536.06V609.26M518.15,536.06H528.95M518.15,609.26H528.95M534.40,524.70V598.30M529.00,524.70H539.80M529.00,598.30H539.80M545.25,512.22V586.13M539.85,512.22H550.65M539.85,586.13H550.65M556.10,498.57V573.17M550.70,498.57H561.50M550.70,573.17H561.50M566.95,484.02V558.32M561.55,484.02H572.35M561.55,558.32H572.35M577.80,468.85V543.34M572.40,468.85H583.20M572.40,543.34H583.20M588.65,455.94V529.62M583.25,455.94H594.05M583.25,529.62H594.05M599.50,446.15V519.03M594.10,446.15H604.90M594.10,519.03H604.90M610.35,439.31V510.78M604.95,439.31H615.75M604.95,510.78H615.75M621.20,432.73V501.81M615.80,432.73H626.60M615.80,501.81H626.60M632.05,424.94V491.88M626.65,424.94H637.45M626.65,491.88H637.45M642.90,416.42V481.90M637.50,416.42H648.30M637.50,481.90H648.30M653.75,406.76V471.16M648.35,406.76H659.15M648.35,471.16H659.15M664.60,398.56V463.18M659.20,398.56H670.00M659.20,463.18H670.00" fill="none" stroke="#4a4a4a" stroke-width="1"/>
<path d="M78.70,633.80 L89.55,633.82 L100.40,633.84 L111.25,633.86 L122.10,633.88 L132.95,633.91 L143.80,633.93 L154.65,633.96 L165.50,633.99 L176.35,634.02 L187.20,634.06 L198.05,634.09 L208.90,634.14 L219.75,634.19 L230.60,634.24 L241.45,634.28 L252.30,634.30 L263.15,634.28 L274.00,634.22 L284.85,634.14 L295.70,634.04 L306.55,633.93 L317.40,633.80 L328.25,633.60 L339.10,633.33 L349.95,632.70 L360.80,632.19 L371.65,631.60 L382.50,630.67 L393.35,629.59 L404.20,627.97 L415.05,626.17 L425.90,624.18 L436.75,621.59 L447.60,618.40 L458.45,614.30 L469.30,609.91 L480.15,604.32 L491.00,598.01 L501.85,590.76 L512.70,582.50 L523.55,572.56 L534.40,561.70 L545.25,549.12 L556.10,535.97 L566.95,521.32 L577.80,506.25 L588.65,492.93 L599.50,482.34 L610.35,475.10 L621.20,467.32 L632.05,458.31 L642.90,449.01 L653.75,438.96 L664.60,431.07" fill="none" stroke="#000" stroke-width="0.9"/>
<circle cx="78.70" cy="633.80" r="1.35" fill="#000"/>
<circle cx="89.55" cy="633.82" r="1.35" fill="#000"/>
<circle cx="100.40" cy="633.84" r="1.35" fill="#000"/>
<circle cx="111.25" cy="633.86" r="1.35" fill="#000"/>
<circle cx="122.10" cy="633.88" r="1.35" fill="#000"/>
<circle cx="132.95" cy="633.91" r="1.35" fill="#000"/>
<circle cx="143.80" cy="633.93" r="1.35" fill="#000"/>
<circle cx="154.65" cy="633.96" r="1.35" fill="#000"/>
<circle cx="165.50" cy="633.99" r="1.35" fill="#000"/>
<circle cx="176.35" cy="634.02" r="1.35" fill="#000"/>
<circle cx="187.20" cy="634.06" r="1.35" fill="#000"/>
<circle cx="198.05" cy="634.09" r="1.35" fill="#000"/>
<circle cx="208.90" cy="634.14" r="1.35" fill="#000"/>
<circle cx="219.75" cy="634.19" r="1.35" fill="#000"/>
<circle cx="230.60" cy="634.24" r="1.35" fill="#000"/>
<circle cx="241.45" cy="634.28" r="1.35" fill="#000"/>
<circle cx="252.30" cy="634.30" r="1.35" fill="#000"/>
<circle cx="263.15" cy="634.28" r="1.35" fill="#000"/>
<circle cx="274.00" cy="634.22" r="1.35" fill="#000"/>
<circle cx="284.85" cy="634.14" r="1.35" fill="#000"/>
<circle cx="295.70" cy="634.04" r="1.35" fill="#000"/>
<circle cx="306.55" cy="633.93" r="1.35" fill="#000"/>
<circle cx="317.40" cy="633.80" r="1.35" fill="#000"/>
<circle cx="328.25" cy="633.60" r="1.35" fill="#000"/>
<circle cx="339.10" cy="633.33" r="1.35" fill="#000"/>
<circle cx="349.95" cy="632.70" r="1.35" fill="#000"/>
<circle cx="360.80" cy="632.19" r="1.35" fill="#000"/>
<circle cx="371.65" cy="631.60" r="1.35" fill="#000"/>
<circle cx="382.50" cy="630.67" r="1.35" fill="#000"/>
<circle cx="393.35" cy="629.59" r="1.35" fill="#000"/>
<circle cx="404.20" cy="627.97" r="1.35" fill="#000"/>
<circle cx="415.05" cy="626.17" r="1.35" fill="#000"/>
<circle cx="425.90" cy="624.18" r="1.35" fill="#000"/>
<circle cx="436.75" cy="621.59" r="1.35" fill="#000"/>
<circle cx="447.60" cy="618.40" r="1.35" fill="#000"/>
<circle cx="458.45" cy="614.30" r="1.35" fill="#000"/>
<circle cx="469.30" cy="609.91" r="1.35" fill="#000"/>
<circle cx="480.15" cy="604.32" r="1.35" fill="#000"/>
<circle cx="491.00" cy="598.01" r="1.35" fill="#000"/>
<circle cx="501.85" cy="590.76" r="1.35" fill="#000"/>
<circle cx="512.70" cy="582.50" r="1.35" fill="#000"/>
<circle cx="523.55" cy="572.56" r="1.35" fill="#000"/>
<circle cx="534.40" cy="561.70" r="1.35" fill="#000"/>
<circle cx="545.25" cy="549.12" r="1.35" fill="#000"/>
<circle cx="556.10" cy="535.97" r="1.35" fill="#000"/>
<circle cx="566.95" cy="521.32" r="1.35" fill="#000"/>
<circle cx="577.80" cy="506.25" r="1.35" fill="#000"/>
<circle cx="588.65" cy="492.93" r="1.35" fill="#000"/>
<circle cx="599.50" cy="482.34" r="1.35" fill="#000"/>
<circle cx="610.35" cy="475.10" r="1.35" fill="#000"/>
<circle cx="621.20" cy="467.32" r="1.35" fill="#000"/>
<circle cx="632.05" cy="458.31" r="1.35" fill="#000"/>
<circle cx="642.90" cy="449.01" r="1.35" fill="#000"/>
<circle cx="653.75" cy="438.96" r="1.35" fill="#000"/>
<circle cx="664.60" cy="431.07" r="1.35" fill="#000"/>
<line x1="252.2" x2="252.2" y1="688.5" y2="386" stroke="#FF0000" stroke-width="1" stroke-dasharray="2.8,2.3"/>
<line x1="490.7" x2="490.7" y1="688.5" y2="386" stroke="#0000FF" stroke-width="1" stroke-dasharray="2.8,2.3"/>
<circle cx="252.2" cy="634.3" r="3.7" fill="#FF0000"/>
<circle cx="490.7" cy="598.2" r="3.7" fill="#0000FF"/>
<rect x="43.5" y="385.5" width="656" height="303" fill="none" stroke="#5a5a5a" stroke-width="1.1"/>
<text transform="translate(39.6,661.90) scale(1,1.08)" font-size="11.8" fill="#4D4D4D" text-anchor="end" stroke="#4D4D4D" stroke-width="0.18">1.00</text>
<text transform="translate(39.6,609.08) scale(1,1.08)" font-size="11.8" fill="#4D4D4D" text-anchor="end" stroke="#4D4D4D" stroke-width="0.18">1.05</text>
<text transform="translate(39.6,556.26) scale(1,1.08)" font-size="11.8" fill="#4D4D4D" text-anchor="end" stroke="#4D4D4D" stroke-width="0.18">1.10</text>
<text transform="translate(39.6,503.44) scale(1,1.08)" font-size="11.8" fill="#4D4D4D" text-anchor="end" stroke="#4D4D4D" stroke-width="0.18">1.15</text>
<text transform="translate(39.6,450.62) scale(1,1.08)" font-size="11.8" fill="#4D4D4D" text-anchor="end" stroke="#4D4D4D" stroke-width="0.18">1.20</text>
<text transform="translate(39.6,397.80) scale(1,1.08)" font-size="11.8" fill="#4D4D4D" text-anchor="end" stroke="#4D4D4D" stroke-width="0.18">1.25</text>
<text transform="translate(89.30,700.9) scale(1,1.06)" font-size="11.9" fill="#4D4D4D" text-anchor="middle" stroke="#4D4D4D" stroke-width="0.18">-7</text>
<text transform="translate(205.94,700.9) scale(1,1.06)" font-size="11.9" fill="#4D4D4D" text-anchor="middle" stroke="#4D4D4D" stroke-width="0.18">-6</text>
<text transform="translate(322.58,700.9) scale(1,1.06)" font-size="11.9" fill="#4D4D4D" text-anchor="middle" stroke="#4D4D4D" stroke-width="0.18">-5</text>
<text transform="translate(439.22,700.9) scale(1,1.06)" font-size="11.9" fill="#4D4D4D" text-anchor="middle" stroke="#4D4D4D" stroke-width="0.18">-4</text>
<text transform="translate(555.86,700.9) scale(1,1.06)" font-size="11.9" fill="#4D4D4D" text-anchor="middle" stroke="#4D4D4D" stroke-width="0.18">-3</text>
<text transform="translate(672.50,700.9) scale(1,1.06)" font-size="11.9" fill="#4D4D4D" text-anchor="middle" stroke="#4D4D4D" stroke-width="0.18">-2</text>
<text x="371.4" y="712.6" font-size="9.85" fill="#000" text-anchor="middle" stroke="#000" stroke-width="0.18">Log(Lambda)</text>
<text transform="translate(11.9,537.2) rotate(-90)" font-size="9.8" fill="#000" text-anchor="middle" stroke="#000" stroke-width="0.18">Binomial Deviance</text>
</svg>
</body></html>
